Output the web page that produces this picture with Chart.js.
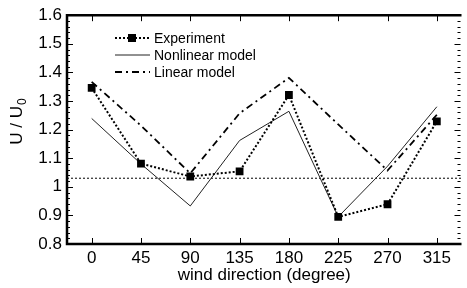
<!DOCTYPE html>
<html>
<head>
<meta charset="utf-8">
<script src="https://cdn.jsdelivr.net/npm/chart.js@4"></script>
<style>
    html, body { margin: 0; padding: 0; background: #fff; }
    #wrap { width: 467px; height: 288px; }
</style>
</head>
<body>
<div id="wrap"><canvas id="windChart"></canvas></div>
<script>
// data
const directions = [0, 45, 90, 135, 180, 225, 270, 315];
const experiment = [1.346, 1.081, 1.036, 1.054, 1.321, 0.895, 0.939, 1.229];
const nonlinear = [1.239, 1.080, 0.933, 1.162, 1.264, 0.895, 1.072, 1.280];
const linear = [1.367, 1.214, 1.047, 1.257, 1.381, 1.218, 1.057, 1.252];
const referenceLevel = 1.03;
const seriesNames = ['Experiment', 'Nonlinear model', 'Linear model'];

const xMin = -22.5, xMax = 337.5;
const yMin = 0.8, yMax = 1.6;
const FONT = "'Liberation Sans', Arial, sans-serif";

const toPoints = values => directions.map((d, i) => ({ x: d, y: values[i] }));

// frame, inward ticks, legend and y title
const framePlugin = {
    id: 'frame',
    afterDraw(chart) {
        const ctx = chart.ctx;
        const a = chart.chartArea;
        const xs = chart.scales.x;
        const ys = chart.scales.y;
        ctx.save();
        ctx.strokeStyle = '#000';

        ctx.lineWidth = 1;
        ctx.beginPath();
        directions.forEach(d => {
            const px = Math.round(xs.getPixelForValue(d)) + 0.5;
            ctx.moveTo(px, a.bottom); ctx.lineTo(px, a.bottom - 6);
            ctx.moveTo(px, a.top); ctx.lineTo(px, a.top + 6);
        });
        for (let i = 0; i <= 40; i++) {
            const v = yMin + i * 0.02;
            const py = Math.round(ys.getPixelForValue(v)) + 0.5;
            const len = i % 5 === 0 ? 6 : 3;
            ctx.moveTo(a.left, py); ctx.lineTo(a.left + len, py);
            ctx.moveTo(a.right - 1, py); ctx.lineTo(a.right - 1 - len, py);
        }
        ctx.stroke();

        // left, top and bottom frame (right edge falls outside the picture)
        ctx.lineWidth = 2.5;
        ctx.beginPath();
        ctx.moveTo(a.right, a.top);
        ctx.lineTo(a.left, a.top);
        ctx.lineTo(a.left, a.bottom);
        ctx.lineTo(a.right, a.bottom);
        ctx.stroke();

        // legend
        const rows = [38, 55, 72];
        [0, 1, 2].forEach(i => {
            const ds = chart.data.datasets[i];
            const y = rows[i];
            ctx.save();
            ctx.strokeStyle = ds.borderColor;
            ctx.lineWidth = ds.borderWidth;
            ctx.setLineDash(ds.borderDash || []);
            ctx.beginPath();
            ctx.moveTo(115, y); ctx.lineTo(150, y);
            ctx.stroke();
            ctx.restore();
            if (ds.pointRadius > 0) {
                ctx.fillStyle = '#000';
                ctx.fillRect(128, y - 4, 8, 8);
            }
            ctx.fillStyle = '#000';
            ctx.font = '14px ' + FONT;
            ctx.textBaseline = 'middle';
            ctx.textAlign = 'left';
            ctx.fillText(seriesNames[i], 154, y + 1);
        });

        // y title U / U0
        ctx.translate(17, 122);
        ctx.rotate(-Math.PI / 2);
        ctx.font = '17px ' + FONT;
        ctx.textBaseline = 'middle';
        ctx.textAlign = 'left';
        const main = 'U / U';
        const w = ctx.measureText(main).width;
        ctx.font = '12px ' + FONT;
        const w0 = ctx.measureText('0').width;
        const start = -(w + w0) / 2;
        ctx.font = '17px ' + FONT;
        ctx.fillText(main, start, 0);
        ctx.font = '12px ' + FONT;
        ctx.fillText('0', start + w + 1, 6);
        ctx.restore();
    }
};

new Chart(document.getElementById('windChart'), {
    type: 'line',
    data: {
        datasets: [{
            label: seriesNames[0],
            data: toPoints(experiment),
            borderColor: '#000',
            backgroundColor: '#000',
            borderWidth: 2,
            borderDash: [2, 2],
            pointStyle: 'rect',
            pointRadius: 5.5,
            pointBorderWidth: 0,
            order: 0
        }, {
            label: seriesNames[1],
            data: toPoints(nonlinear),
            borderColor: '#222',
            borderWidth: 1,
            pointRadius: 0,
            order: 1
        }, {
            label: seriesNames[2],
            data: toPoints(linear),
            borderColor: '#000',
            borderWidth: 1.8,
            borderDash: [7, 4, 2, 4],
            pointRadius: 0,
            order: 2
        }, {
            label: 'reference',
            data: [{ x: xMin, y: referenceLevel }, { x: xMax, y: referenceLevel }],
            borderColor: '#000',
            borderWidth: 1,
            borderDash: [2, 2],
            pointRadius: 0,
            order: 3
        }]
    },
    options: {
        responsive: true,
        maintainAspectRatio: false,
        animation: false,
        layout: { padding: { top: 14, left: 0, right: 0, bottom: 0 } },
        plugins: {
            legend: { display: false },
            tooltip: { enabled: false }
        },
        scales: {
            x: {
                type: 'linear',
                min: xMin,
                max: xMax,
                afterBuildTicks: scale => {
                    scale.ticks = directions.map(d => ({ value: d }));
                },
                afterFit: scale => { scale.height = 44; },
                grid: { display: false, drawTicks: false },
                border: { display: false },
                ticks: {
                    padding: 4,
                    color: '#000',
                    font: { family: FONT, size: 17 },
                    maxRotation: 0
                },
                title: {
                    display: true,
                    text: 'wind direction (degree)',
                    color: '#000',
                    font: { family: FONT, size: 17 },
                    padding: { top: 0, bottom: 2 }
                }
            },
            y: {
                min: yMin,
                max: yMax,
                afterFit: scale => { scale.width = 67; },
                grid: { display: false, drawTicks: false },
                border: { display: false },
                ticks: {
                    stepSize: 0.1,
                    padding: 5,
                    color: '#000',
                    font: { family: FONT, size: 17 },
                    callback: v => Math.abs(v - 1) < 1e-9 ? '1' : v.toFixed(1)
                }
            }
        }
    },
    plugins: [framePlugin]
});
</script>
</body>
</html>
